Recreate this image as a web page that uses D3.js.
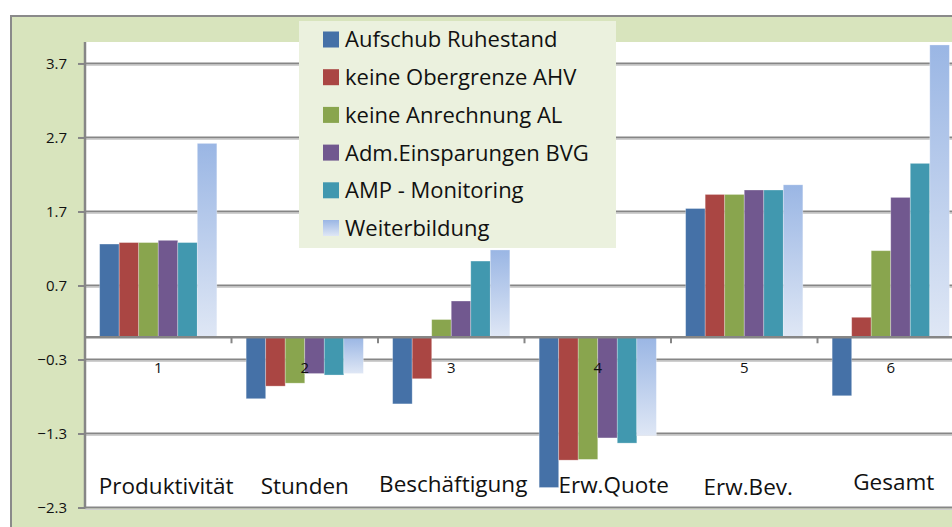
<!DOCTYPE html>
<html lang="de">
<head>
<meta charset="UTF-8">
<title>Effekte</title>
<script src="https://d3js.org/d3.v7.min.js"></script>
<style>
  body { margin: 0; background: #ffffff; }
  svg { display: block; font-family: "Open Sans", "Noto Sans", sans-serif; }
</style>
</head>
<body>
<svg id="chart"></svg>
<script>
// categories (numbered axis) and their text labels
const categories = ["1", "2", "3", "4", "5", "6"];
const categoryNames = ["Produktivität", "Stunden", "Beschäftigung", "Erw.Quote", "Erw.Bev.", "Gesamt"];

const seriesNames = ["Aufschub Ruhestand", "keine Obergrenze AHV", "keine Anrechnung AL",
                     "Adm.Einsparungen BVG", "AMP - Monitoring", "Weiterbildung"];

// values per series, one entry per category
const aufschub     = [1.26, -0.83, -0.90, -2.03, 1.74, -0.79];
const obergrenze   = [1.28, -0.66, -0.56, -1.66, 1.93,  0.27];
const anrechnung   = [1.28, -0.62,  0.24, -1.65, 1.93,  1.17];
const admEinsp     = [1.31, -0.49,  0.49, -1.36, 1.99,  1.89];
const ampMonitor   = [1.28, -0.51,  1.03, -1.43, 1.99,  2.35];
const weiterbild   = [2.62, -0.49,  1.18, -1.33, 2.06,  3.95];

const yTicks = [-2.3, -1.3, -0.3, 0.7, 1.7, 2.7, 3.7];

const seriesValues = [aufschub, obergrenze, anrechnung, admEinsp, ampMonitor, weiterbild];
const colors = ["#4571a7", "#aa4643", "#89a54e", "#71588f", "#4198af", "url(#wb)"];

const W = 952, H = 527;
const plot = { left: 85, top: 42, bottom: 507.5, right: 85 + 6 * 146.5 };

const svg = d3.select("#chart").attr("width", W).attr("height", H);

const defs = svg.append("defs");
const grad = defs.append("linearGradient")
    .attr("id", "wb").attr("x1", 0).attr("y1", 0).attr("x2", 0).attr("y2", 1);
grad.append("stop").attr("offset", "0%").attr("stop-color", "#9ab6e4");
grad.append("stop").attr("offset", "100%").attr("stop-color", "#dfe7f5");

// outer frame
svg.append("rect").attr("x", 11).attr("y", 16).attr("width", W).attr("height", H)
   .attr("fill", "#d8e4bd").attr("stroke", "#8a8a8a").attr("stroke-width", 2);

// plot area
svg.append("rect")
   .attr("x", plot.left).attr("y", plot.top)
   .attr("width", W - plot.left).attr("height", plot.bottom - plot.top + 1)
   .attr("fill", "#ffffff");

const x0 = d3.scaleBand().domain(categories).range([plot.left, plot.right]);
const bw = x0.bandwidth();
const x1 = d3.scaleBand().domain(seriesNames).range([bw * 0.1, bw * 0.9]);

const y = d3.scaleLinear().domain([-2.3, 3.99]).range([plot.bottom, plot.top]);

// gridlines
const grid = svg.append("g");
grid.selectAll("line.shadow").data(yTicks).join("line")
    .attr("class", "shadow")
    .attr("x1", plot.left).attr("x2", W)
    .attr("y1", d => y(d) + 2).attr("y2", d => y(d) + 2)
    .attr("stroke", "#cfcfcf").attr("stroke-width", 1);
grid.selectAll("line.main").data(yTicks).join("line")
    .attr("class", "main")
    .attr("x1", plot.left).attr("x2", W)
    .attr("y1", d => y(d)).attr("y2", d => y(d))
    .attr("stroke", "#868686").attr("stroke-width", 2);

// bars
const groups = svg.append("g").selectAll("g")
    .data(categories).join("g")
    .attr("transform", d => `translate(${x0(d)},0)`);

groups.selectAll("rect")
    .data((c, ci) => seriesNames.map((s, si) => ({ s, si, v: seriesValues[si][ci] })))
    .join("rect")
    .attr("x", d => x1(d.s))
    .attr("width", x1.bandwidth())
    .attr("y", d => y(Math.max(0, d.v)))
    .attr("height", d => Math.abs(y(d.v) - y(0)))
    .attr("fill", d => colors[d.si])
    .attr("stroke", "rgba(255,255,255,0.35)")
    .attr("stroke-width", 0.8);

// y axis
const yAxis = d3.axisLeft(y).tickValues(yTicks).tickFormat(d3.format(".1f"))
    .tickSize(7).tickPadding(11);
const gy = svg.append("g").attr("transform", `translate(${plot.left},0)`).call(yAxis);
gy.select(".domain").attr("stroke", "#868686").attr("stroke-width", 2.5)
  .attr("d", `M0,${plot.top}V${plot.bottom + 1}`);
gy.selectAll(".tick line").attr("stroke", "#868686").attr("stroke-width", 2);
gy.selectAll(".tick text").attr("font-size", 15).attr("fill", "#111")
  .attr("font-family", "'Open Sans', sans-serif");

// category axis at zero
const xAxis = d3.axisBottom(x0).tickSize(0).tickPadding(25);
const gx = svg.append("g").attr("transform", `translate(0,${y(0)})`).call(xAxis);
gx.select(".domain").attr("stroke", "#868686").attr("stroke-width", 2.5)
  .attr("d", `M${plot.left},0H${W}`);
gx.selectAll(".tick text").attr("font-size", 15).attr("fill", "#111")
  .attr("font-family", "'Open Sans', sans-serif");
gx.selectAll("line.sep").data(categories.slice(1)).join("line")
  .attr("class", "sep")
  .attr("x1", d => x0(d)).attr("x2", d => x0(d))
  .attr("y1", 0).attr("y2", 6)
  .attr("stroke", "#868686").attr("stroke-width", 2);

// category name labels (free text boxes in the original)
const nameDx = [8, 0, 2, 16, 4, 3];
const nameY = [494, 494, 491.5, 492.5, 494.5, 490];
svg.append("g").selectAll("text")
   .data(categoryNames).join("text")
   .attr("x", (d, i) => x0(categories[i]) + bw / 2 + nameDx[i])
   .attr("y", (d, i) => nameY[i])
   .attr("text-anchor", "middle")
   .attr("font-size", 22.5)
   .attr("fill", "#111")
   .text(d => d);

// legend
const legend = svg.append("g").attr("transform", "translate(299,21)");
legend.append("rect").attr("width", 317).attr("height", 227).attr("fill", "#ebf1de");
const items = legend.selectAll("g").data(seriesNames).join("g")
    .attr("transform", (d, i) => `translate(24,${18.5 + i * 37.7})`);
items.append("rect")
    .attr("x", 0).attr("y", -8).attr("width", 16).attr("height", 16)
    .attr("fill", (d, i) => colors[i]);
items.append("text")
    .attr("x", 22).attr("y", 0).attr("dy", "0.36em")
    .attr("font-size", 22)
    .attr("fill", "#111")
    .text(d => d);
</script>
</body>
</html>
